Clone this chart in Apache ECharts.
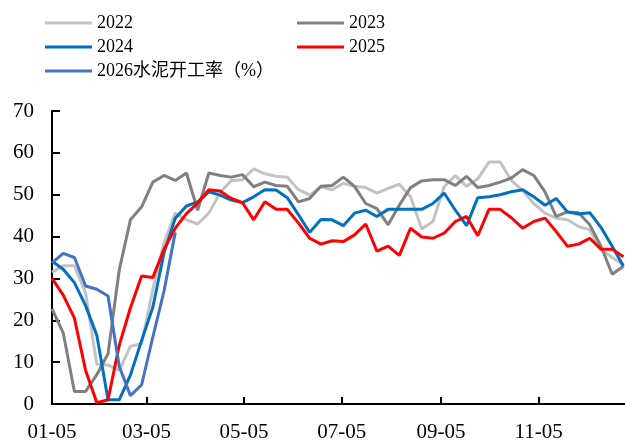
<!DOCTYPE html>
<html>
<head>
<meta charset="utf-8">
<script src="https://cdn.jsdelivr.net/npm/echarts@6/dist/echarts.min.js"></script>
<style>
  html, body { margin: 0; padding: 0; background: #fff; }
  #chart { width: 625px; height: 443px; }
</style>
</head>
<body>
<div id="chart"></div>
<script>
// Weekly cement operating rate (%), one value per week starting 01-05
var s2022 = [31.5,33,33,26.5,9.5,9.3,8,13.8,14.4,27.4,38.5,45.6,44,43,45.6,50.5,53.4,53.6,56.2,55,54.4,54.2,51.2,49.9,51.9,51.2,52.7,52,51.7,50.4,51.5,52.5,49.5,41.8,43.6,51.9,54.6,52,53.8,57.8,57.8,53.4,51,47.9,45.6,44.4,44,42.4,41.6,37,35,33.3];
var s2023 = [22.7,17,3,3,7,12,32,44,47.1,53,54.6,53.4,55.2,46.3,55.2,54.6,54.2,54.8,51.9,53,52.2,52,48.3,49.1,52,52.2,54.2,52,47.9,46.7,42.8,47.5,51.7,53.3,53.6,53.6,52.2,54.4,51.7,52.2,53,54,56,54.6,50.7,44.8,45.9,45.7,42.8,37.7,31,32.9];
var s2024 = [34.1,32.2,29,23.5,16.4,1,1,6.9,15.2,23.1,36.1,44.4,47.3,48.3,50.7,49.9,48.7,48.1,49.5,51.2,51.1,49.3,45.2,41,44.1,44,42.6,45.6,46.3,44.8,46.5,46.5,46.5,46.5,47.9,50.4,46.3,42.6,49.3,49.5,50,50.7,51.2,49.5,47.5,49.1,45.9,45.4,45.7,42.2,37.7,32.9];
var s2025 = [30,26,20.5,8,0.3,1,14,23,30.6,30.2,37,42,45.5,48,51.2,50.9,49.1,48.1,44,48.3,46.5,46.5,43.2,39.6,38.2,39,38.8,40.4,43,36.5,37.7,35.5,42,39.9,39.6,40.8,43.6,44.8,40.2,46.5,46.5,44.5,42,43.6,44.4,41.2,37.7,38.2,39.6,37,37,35.2];
var s2026 = [33.7,36,35,28.2,27.4,25.8,9,2,4.6,16,27,41];

var seriesNames = ['2022', '2023', '2024', '2025', '2026水泥开工率（%）'];
var tickLabels = ['01-05', '03-05', '05-05', '07-05', '09-05', '11-05'];

// Days elapsed since 01-05 for a "MM-DD" string
function dayOffset(md) {
  var p = md.split('-');
  return Math.round((Date.UTC(2025, +p[0] - 1, +p[1]) - Date.UTC(2025, 0, 5)) / 86400000);
}
var tickDays = tickLabels.map(dayOffset);

function weekly(values) {
  return values.map(function (v, i) { return [i * 7, v]; });
}

var FONT = "'Liberation Serif', 'Noto Sans CJK SC', serif";
var colors = ['#C3C3C3', '#808080', '#0070C0', '#FF0000', '#4472C4'];
var values = [s2022, s2023, s2024, s2025, s2026];

var legendText = { fontFamily: FONT, fontSize: 18, color: '#000', lineHeight: 20 };

var chart = echarts.init(document.getElementById('chart'), null, { renderer: 'canvas' });
chart.setOption({
  backgroundColor: '#fff',
  animation: false,
  legend: [
    {
      data: [seriesNames[0], seriesNames[2], seriesNames[4]],
      orient: 'vertical', left: 45, top: 13, padding: 0, itemGap: 4,
      icon: 'rect', itemWidth: 47, itemHeight: 3, textStyle: legendText
    },
    {
      data: [seriesNames[1], seriesNames[3]],
      orient: 'vertical', left: 297, top: 13, padding: 0, itemGap: 4,
      icon: 'rect', itemWidth: 47, itemHeight: 3, textStyle: legendText
    }
  ],
  grid: { left: 52, right: 0, top: 111, bottom: 37, containLabel: false },
  xAxis: {
    type: 'value',
    min: 0,
    max: 358,
    splitLine: { show: false },
    axisLine: { lineStyle: { color: '#000', width: 2 } },
    axisTick: { inside: true, length: 7, customValues: tickDays, lineStyle: { color: '#000', width: 2 } },
    axisLabel: {
      customValues: tickDays,
      margin: 18,
      fontFamily: FONT, fontSize: 21, color: '#000',
      formatter: function (v) { return tickLabels[tickDays.indexOf(v)]; }
    }
  },
  yAxis: {
    type: 'value',
    min: 0,
    max: 70,
    interval: 10,
    splitLine: { show: false },
    axisLine: { show: true, lineStyle: { color: '#000', width: 2 } },
    axisTick: { show: true, inside: true, length: 8, lineStyle: { color: '#000', width: 2 } },
    axisLabel: { margin: 18, fontFamily: FONT, fontSize: 21, color: '#000' }
  },
  series: seriesNames.map(function (name, k) {
    return {
      name: name,
      type: 'line',
      data: weekly(values[k]),
      showSymbol: false,
      symbol: 'none',
      lineStyle: { color: colors[k], width: 3 },
      itemStyle: { color: colors[k] },
      emphasis: { disabled: true }
    };
  })
});
</script>
</body>
</html>
